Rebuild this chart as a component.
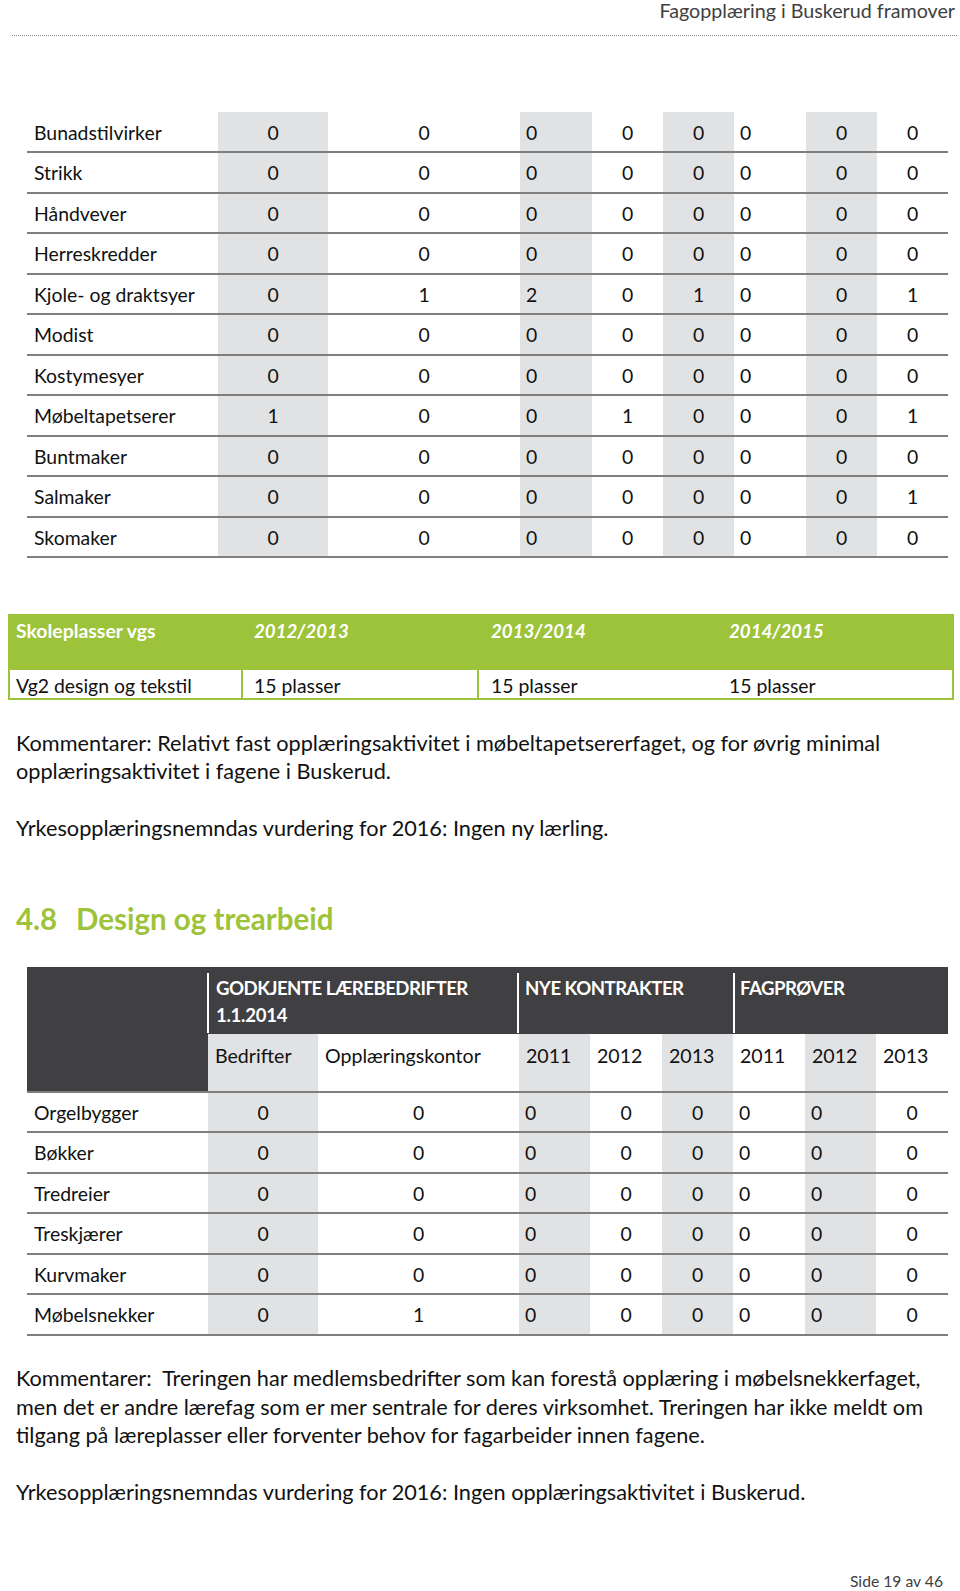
import React from 'react';

// Tekstilfag (continued table, top of page)
const textileCrafts = [
  'Bunadstilvirker', 'Strikk', 'Håndvever', 'Herreskredder', 'Kjole- og draktsyer', 'Modist',
  'Kostymesyer', 'Møbeltapetserer', 'Buntmaker', 'Salmaker', 'Skomaker',
];
const textileBedrifter = [0, 0, 0, 0, 0, 0, 0, 1, 0, 0, 0];
const textileKontor = [0, 0, 0, 0, 1, 0, 0, 0, 0, 0, 0];
const textileKontrakter2011 = [0, 0, 0, 0, 2, 0, 0, 0, 0, 0, 0];
const textileKontrakter2012 = [0, 0, 0, 0, 0, 0, 0, 1, 0, 0, 0];
const textileKontrakter2013 = [0, 0, 0, 0, 1, 0, 0, 0, 0, 0, 0];
const textileFagprover2011 = [0, 0, 0, 0, 0, 0, 0, 0, 0, 0, 0];
const textileFagprover2012 = [0, 0, 0, 0, 0, 0, 0, 0, 0, 0, 0];
const textileFagprover2013 = [0, 0, 0, 0, 1, 0, 0, 1, 0, 1, 0];

// Skoleplasser
const schoolYears = ['2012/2013', '2013/2014', '2014/2015'];
const schoolPlaces = ['15 plasser', '15 plasser', '15 plasser'];

// Design og trearbeid
const woodCrafts = ['Orgelbygger', 'Bøkker', 'Tredreier', 'Treskjærer', 'Kurvmaker', 'Møbelsnekker'];
const woodBedrifter = [0, 0, 0, 0, 0, 0];
const woodKontor = [0, 0, 0, 0, 0, 1];
const woodKontrakter2011 = [0, 0, 0, 0, 0, 0];
const woodKontrakter2012 = [0, 0, 0, 0, 0, 0];
const woodKontrakter2013 = [0, 0, 0, 0, 0, 0];
const woodFagprover2011 = [0, 0, 0, 0, 0, 0];
const woodFagprover2012 = [0, 0, 0, 0, 0, 0];
const woodFagprover2013 = [0, 0, 0, 0, 0, 0];
const subHeaders = ['Bedrifter', 'Opplæringskontor', '2011', '2012', '2013', '2011', '2012', '2013'];

const comment1 = [
  'Kommentarer: Relativt fast opplæringsaktivitet i møbeltapetsererfaget, og for øvrig minimal',
  'opplæringsaktivitet i fagene i Buskerud.',
];
const verdict1 = 'Yrkesopplæringsnemndas vurdering for 2016: Ingen ny lærling.';
const comment2 = [
  'Kommentarer:  Treringen har medlemsbedrifter som kan forestå opplæring i møbelsnekkerfaget,',
  'men det er andre lærefag som er mer sentrale for deres virksomhet. Treringen har ikke meldt om',
  'tilgang på læreplasser eller forventer behov for fagarbeider innen fagene.',
];
const verdict2 = 'Yrkesopplæringsnemndas vurdering for 2016: Ingen opplæringsaktivitet i Buskerud.';

const FONT = 'Lato, "Open Sans", sans-serif';
const SIZE = 19.4; // table text
const PARA = 21.7; // running text
const HEAD = 18.6; // bold caps in dark header
const GREEN = '#9dc33b';
const DARK = '#404042';
const GREY_COL = '#e1e2e4';
const RULE = '#7f7f7f';

type TxtProps = {
  x: number; y: number; children: React.ReactNode; size?: number; bold?: boolean;
  italic?: boolean; color?: string; align?: 'left' | 'center' | 'right'; w?: number; ls?: number;
};

// y is the visual middle of the text line
const Txt = ({ x, y, children, size = SIZE, bold, italic, color = '#111', align = 'left', w = 0, ls = 0 }: TxtProps) => {
  const lh = size * 1.5;
  const left = align === 'left' ? x : align === 'center' ? x - w / 2 : x - w;
  return (
    <div
      style={{
        position: 'absolute', left, top: y - size * 0.82, width: w || undefined, height: lh,
        lineHeight: `${lh}px`, fontSize: size, fontWeight: bold ? 700 : 400, fontStyle: italic ? 'italic' : 'normal',
        color, textAlign: align, whiteSpace: 'pre', letterSpacing: ls,
      }}
    >
      {children}
    </div>
  );
};

const Box = ({ x, y, w, h, bg }: { x: number; y: number; w: number; h: number; bg: string }) => (
  <div style={{ position: 'absolute', left: x, top: y, width: w, height: h, background: bg }} />
);

type Col = { x0: number; x1: number; align: 'l' | 'c' };

const CountTable = ({ top, rows, columns, cols, lineLeft }: {
  top: number; rows: string[]; columns: number[][]; cols: Col[]; lineLeft: number;
}) => {
  const rowH = 40.5;
  const out: React.ReactNode[] = [];
  rows.forEach((name, r) => {
    const cy = top + r * rowH + 22;
    out.push(<Txt key={`n${r}`} x={34} y={cy}>{name}</Txt>);
    columns.forEach((vals, c) => {
      const col = cols[c];
      if (col.align === 'c') {
        out.push(<Txt key={`v${r}-${c}`} x={(col.x0 + col.x1) / 2} w={60} align="center" y={cy}>{String(vals[r])}</Txt>);
      } else {
        out.push(<Txt key={`v${r}-${c}`} x={col.x0 + 6} y={cy}>{String(vals[r])}</Txt>);
      }
    });
    out.push(<Box key={`l${r}`} x={lineLeft} y={top + (r + 1) * rowH - 1} w={948 - lineLeft} h={2} bg={RULE} />);
  });
  return <>{out}</>;
};

const topCols: Col[] = [
  { x0: 218, x1: 328, align: 'c' }, { x0: 328, x1: 520, align: 'c' }, { x0: 520, x1: 592, align: 'l' },
  { x0: 592, x1: 663, align: 'c' }, { x0: 663, x1: 734, align: 'c' }, { x0: 734, x1: 806, align: 'l' },
  { x0: 806, x1: 877, align: 'c' }, { x0: 877, x1: 948, align: 'c' },
];
const woodCols: Col[] = [
  { x0: 208, x1: 318, align: 'c' }, { x0: 318, x1: 519, align: 'c' }, { x0: 519, x1: 590, align: 'l' },
  { x0: 590, x1: 662, align: 'c' }, { x0: 662, x1: 733, align: 'c' }, { x0: 733, x1: 805, align: 'l' },
  { x0: 805, x1: 876, align: 'l' }, { x0: 876, x1: 948, align: 'c' },
];

export default function App() {
  const topY = 111.5;
  const woodY = 1091.5;
  const greyIdx = [0, 2, 4, 6];
  return (
    <div style={{ position: 'absolute', left: 0, top: 0, width: 960, height: 1591, background: '#fff', fontFamily: FONT, overflow: 'hidden' }}>
      {/* running header */}
      <Txt x={955} w={400} align="right" y={12} size={19.7} color="#404040">Fagopplæring i Buskerud framover</Txt>
      <div style={{ position: 'absolute', left: 12, top: 35, width: 945, borderTop: '1px dotted #8a8a8a' }} />

      {/* textile table */}
      {greyIdx.map((i) => (
        <Box key={`g${i}`} x={topCols[i].x0} y={topY} w={topCols[i].x1 - topCols[i].x0} h={textileCrafts.length * 40.5} bg={GREY_COL} />
      ))}
      <CountTable
        top={topY}
        rows={textileCrafts}
        columns={[textileBedrifter, textileKontor, textileKontrakter2011, textileKontrakter2012, textileKontrakter2013,
          textileFagprover2011, textileFagprover2012, textileFagprover2013]}
        cols={topCols}
        lineLeft={27}
      />

      {/* school places */}
      <Box x={8} y={614} w={946} h={56} bg={GREEN} />
      <div style={{ position: 'absolute', left: 8, top: 670, width: 942, height: 28, border: `2px solid ${GREEN}`, borderTop: 'none' }} />
      <Box x={240.5} y={670} w={2} h={30} bg={GREEN} />
      <Box x={477} y={670} w={2} h={30} bg={GREEN} />
      <Txt x={16} y={632} bold color="#fff">Skoleplasser vgs</Txt>
      {schoolYears.map((yr, i) => (
        <Txt key={yr} x={[254, 491, 729][i]} y={632} size={18.7} bold italic color="#fff">{yr}</Txt>
      ))}
      <Txt x={16} y={687}>Vg2 design og tekstil</Txt>
      {schoolPlaces.map((p, i) => (
        <Txt key={`p${i}`} x={[254, 491, 729][i]} y={687}>{p}</Txt>
      ))}

      {/* comments 1 */}
      {comment1.map((t, i) => <Txt key={`c1${i}`} x={16} y={745 + i * 28} size={PARA}>{t}</Txt>)}
      <Txt x={16} y={830} size={PARA}>{verdict1}</Txt>

      {/* heading */}
      <Txt x={16} y={921} size={29.5} bold color={GREEN}>4.8</Txt>
      <Txt x={76} y={921} size={29.5} bold color={GREEN}>Design og trearbeid</Txt>

      {/* wood table header */}
      <Box x={27} y={967} w={921} h={67} bg={DARK} />
      <Box x={27} y={1034} w={181} h={57.5} bg={DARK} />
      <Box x={207} y={973} w={2} h={60} bg="#fff" />
      <Box x={517} y={973} w={2} h={60} bg="#fff" />
      <Box x={733} y={973} w={2} h={60} bg="#fff" />
      {greyIdx.map((i) => (
        <Box key={`wg${i}`} x={woodCols[i].x0} y={1034} w={woodCols[i].x1 - woodCols[i].x0} h={woodY - 1034 + woodCrafts.length * 40.5} bg={GREY_COL} />
      ))}
      <Txt x={216} y={990} size={HEAD} ls={-0.5} bold color="#fff">GODKJENTE LÆREBEDRIFTER</Txt>
      <Txt x={216} y={1017} size={HEAD} ls={-0.3} bold color="#fff">1.1.2014</Txt>
      <Txt x={525} y={990} size={HEAD} ls={-0.5} bold color="#fff">NYE KONTRAKTER</Txt>
      <Txt x={740} y={990} size={HEAD} ls={-0.5} bold color="#fff">FAGPRØVER</Txt>
      {subHeaders.map((h, i) => (
        <Txt key={`sh${i}`} x={woodCols[i].x0 + 7} y={1057} size={19.6}>{h}</Txt>
      ))}
      <Box x={27} y={woodY - 1} w={921} h={2} bg={RULE} />
      <CountTable
        top={woodY}
        rows={woodCrafts}
        columns={[woodBedrifter, woodKontor, woodKontrakter2011, woodKontrakter2012, woodKontrakter2013,
          woodFagprover2011, woodFagprover2012, woodFagprover2013]}
        cols={woodCols}
        lineLeft={27}
      />

      {/* comments 2 */}
      {comment2.map((t, i) => <Txt key={`c2${i}`} x={16} y={1380 + i * 28.5} size={PARA}>{t}</Txt>)}
      <Txt x={16} y={1494} size={PARA}>{verdict2}</Txt>

      {/* footer */}
      <Txt x={943} w={200} align="right" y={1583} size={15.7} color="#404040">Side 19 av 46</Txt>
    </div>
  );
}
